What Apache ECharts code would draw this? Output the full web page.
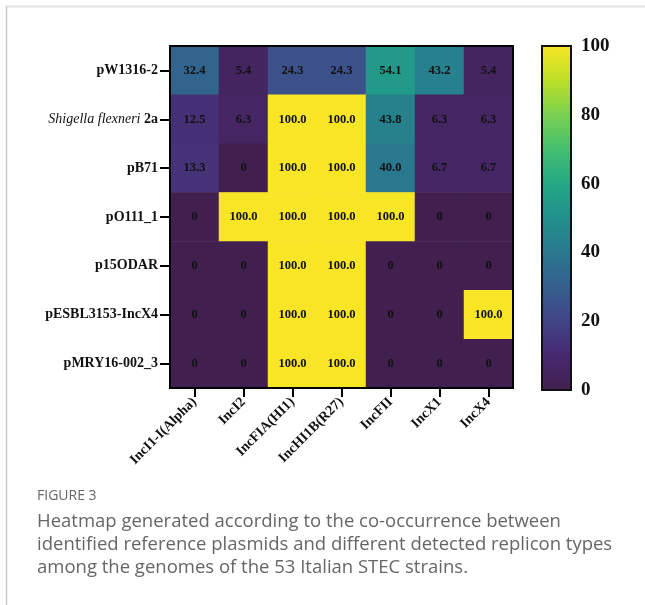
<!DOCTYPE html>
<html>
<head>
<meta charset="utf-8">
<script src="https://cdn.jsdelivr.net/npm/echarts@6/dist/echarts.min.js"></script>
<style>
html,body{margin:0;padding:0;background:#fff;}
#chart{width:645px;height:605px;}
</style>
</head>
<body>
<div id="chart"></div>
<script>
// ---- data ----
var plasmids = ['pW1316-2', 'Shigella flexneri 2a', 'pB71', 'pO111_1', 'p15ODAR', 'pESBL3153-IncX4', 'pMRY16-002_3'];
var replicons = ['IncI1-I(Alpha)', 'IncI2', 'IncFIA(HI1)', 'IncHI1B(R27)', 'IncFII', 'IncX1', 'IncX4'];
var row_pW1316 = [32.4, 5.4, 24.3, 24.3, 54.1, 43.2, 5.4];
var row_Shigella = [12.5, 6.3, 100, 100, 43.8, 6.3, 6.3];
var row_pB71 = [13.3, 0, 100, 100, 40.0, 6.7, 6.7];
var row_pO111 = [0, 100, 100, 100, 100, 0, 0];
var row_p15ODAR = [0, 0, 100, 100, 0, 0, 0];
var row_pESBL = [0, 0, 100, 100, 0, 0, 100];
var row_pMRY16 = [0, 0, 100, 100, 0, 0, 0];
var colorbarTicks = [0, 20, 40, 60, 80, 100];
var captionTitle = 'FIGURE 3';
var captionLines = [
  'Heatmap generated according to the co-occurrence between',
  'identified reference plasmids and different detected replicon types',
  'among the genomes of the 53 Italian STEC strains.'
];

var rows = [row_pW1316, row_Shigella, row_pB71, row_pO111, row_p15ODAR, row_pESBL, row_pMRY16];
var cells = [];
rows.forEach(function (r, yi) {
  r.forEach(function (v, xi) { cells.push([xi, yi, v]); });
});

var viridis = ['#41204f', '#47296f', '#414487', '#355f8d', '#2a788e', '#21918c', '#22a884', '#44bf70', '#7ad151', '#bddf26', '#f8e626'];
var gradStops = viridis.map(function (c, i) { return { offset: 1 - i / (viridis.length - 1), color: c }; });

var serif = '"Liberation Serif", "DejaVu Serif", serif';

var chart = echarts.init(document.getElementById('chart'));
var option = {
  backgroundColor: '#fff',
  animation: false,
  grid: [
    { left: 170, top: 46, width: 343, height: 342, show: true, borderColor: '#000', borderWidth: 2, backgroundColor: 'transparent', z: 5 },
    { left: 542, top: 46, width: 29, height: 344, show: true, borderColor: '#111', borderWidth: 2, z: 5 }
  ],
  xAxis: [
    {
      type: 'category', gridIndex: 0, data: replicons, position: 'bottom',
      axisLine: { show: true, lineStyle: { color: '#000', width: 2 } },
      axisTick: { show: true, alignWithLabel: true, length: 9, lineStyle: { color: '#000', width: 2 } },
      axisLabel: { rotate: 45, fontFamily: serif, fontWeight: 'bold', fontSize: 14, color: '#111', margin: 12 },
      splitLine: { show: false }
    },
    { type: 'category', gridIndex: 1, data: ['scale'], show: false }
  ],
  yAxis: [
    {
      type: 'category', gridIndex: 0, data: plasmids, inverse: true,
      axisLine: { show: true, lineStyle: { color: '#000', width: 2 } },
      axisTick: { show: true, alignWithLabel: true, length: 10, lineStyle: { color: '#000', width: 2 } },
      axisLabel: {
        fontFamily: serif, fontWeight: 'bold', fontSize: 14, color: '#111', margin: 12,
        formatter: function (v) {
          if (v === 'Shigella flexneri 2a') return '{it|Shigella flexneri} {b|2a}';
          return '{b|' + v + '}';
        },
        rich: {
          it: { fontFamily: serif, fontStyle: 'italic', fontWeight: 'normal', fontSize: 14, color: '#111' },
          b: { fontFamily: serif, fontWeight: 'bold', fontSize: 14, color: '#111' }
        }
      },
      splitLine: { show: false }
    },
    {
      type: 'value', gridIndex: 1, min: 0, max: 100, interval: 20, position: 'right',
      axisLine: { show: true, lineStyle: { color: '#111', width: 2 } },
      axisTick: { show: true, inside: true, length: 5, lineStyle: { color: '#111', width: 2 } },
      axisLabel: {
        fontFamily: serif, fontWeight: 'bold', fontSize: 19, color: '#111', margin: 10,
        customValues: colorbarTicks
      },
      splitLine: { show: false }
    },
    {
      type: 'value', gridIndex: 1, min: 0, max: 100, interval: 20, position: 'left',
      axisLine: { show: true, lineStyle: { color: '#111', width: 2 } },
      axisTick: { show: true, inside: true, length: 5, lineStyle: { color: '#111', width: 2 } },
      axisLabel: { show: false },
      splitLine: { show: false }
    }
  ],
  visualMap: {
    show: false, type: 'continuous', min: 0, max: 100, seriesIndex: 0,
    inRange: { color: viridis }
  },
  series: [
    {
      type: 'heatmap', xAxisIndex: 0, yAxisIndex: 0, data: cells,
      label: {
        show: true, fontFamily: serif, fontWeight: 'bold', fontSize: 12.5, color: '#111',
        formatter: function (p) { var v = p.value[2]; return v === 0 ? '0' : v.toFixed(1); }
      },
      itemStyle: { borderWidth: 0 },
      emphasis: { disabled: true }
    },
    {
      type: 'bar', xAxisIndex: 1, yAxisIndex: 1, data: [colorbarTicks[colorbarTicks.length - 1]],
      barWidth: '100%', silent: true,
      itemStyle: { color: new echarts.graphic.LinearGradient(0, 0, 0, 1, gradStops) }
    }
  ],
  graphic: [
    { type: 'line', shape: { x1: 6, y1: 6.5, x2: 645, y2: 6.5 }, style: { stroke: '#e2e2e2', lineWidth: 2 } },
    { type: 'line', shape: { x1: 6.5, y1: 6, x2: 6.5, y2: 605 }, style: { stroke: '#c9c9c9', lineWidth: 1.5 } },
    { type: 'text', left: 37, top: 489, style: { text: captionTitle, font: '14px "Open Sans", sans-serif', fill: '#666' } },
    { type: 'text', left: 37, top: 510, style: { text: captionLines.join('\n'), font: '18.5px "Open Sans", sans-serif', lineHeight: 23, fill: '#666' } }
  ]
};
chart.setOption(option);
</script>
</body>
</html>
